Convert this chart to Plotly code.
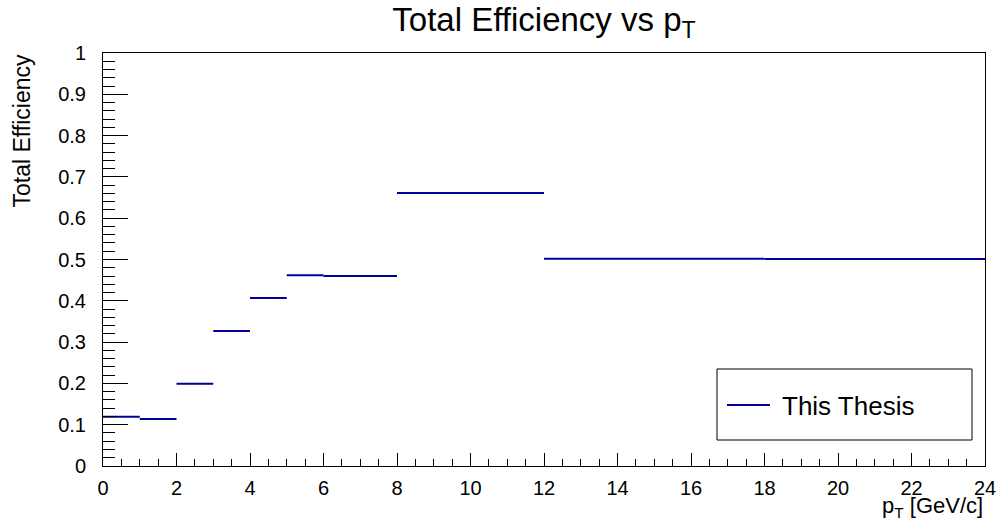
import plotly.graph_objects as go

bin_edges = [0, 1, 2, 3, 4, 5, 6, 8, 12, 18, 24]
efficiency = [0.119, 0.114, 0.199, 0.327, 0.407, 0.462, 0.460, 0.661, 0.502, 0.501]
series_name = "This Thesis"

xs, ys = [], []
for i, v in enumerate(efficiency):
    xs += [bin_edges[i], bin_edges[i + 1], None]
    ys += [v, v, None]

FONT = "Liberation Sans, Arial, Helvetica, sans-serif"
BLUE = "#000099"

L, R, T, B = 103, 985, 53, 466
PW, PH = R - L, B - T


def px(x):
    return (x - L) / PW


def py(y):
    return (B - y) / PH


fig = go.Figure()
fig.add_trace(go.Scatter(x=xs, y=ys, mode="lines", name=series_name,
                         line=dict(color=BLUE, width=2), connectgaps=False,
                         showlegend=False))

fig.update_layout(
    width=1000, height=523,
    margin=dict(l=L, r=1000 - R, t=T, b=523 - B, autoexpand=False),
    paper_bgcolor="white", plot_bgcolor="white",
    font=dict(family=FONT, color="black", size=20),
    title=dict(text="Total Efficiency vs p<sub>T</sub>", xref="paper", x=0.5, xanchor="center",
               yref="container", y=0.985, yanchor="top", font=dict(size=33, family=FONT)),
    showlegend=False,
    xaxis=dict(range=[0, 24], dtick=2, tick0=0, ticks="inside", ticklen=13,
               tickcolor="black", showgrid=False, zeroline=False, automargin=False,
               showline=True, linecolor="black", linewidth=1, mirror=True,
               tickfont=dict(size=20), ticklabelstandoff=4,
               minor=dict(dtick=0.5, ticks="inside", ticklen=7, tickcolor="black", showgrid=False)),
    yaxis=dict(range=[0, 1], dtick=0.1, tick0=0, ticks="inside", ticklen=25,
               tickcolor="black", showgrid=False, zeroline=False, automargin=False,
               showline=True, linecolor="black", linewidth=1, mirror=True,
               tickfont=dict(size=20), ticklabelstandoff=12,
               minor=dict(dtick=0.02, ticks="inside", ticklen=12, tickcolor="black", showgrid=False)),
    shapes=[
        dict(type="rect", xref="paper", yref="paper",
             x0=px(717), x1=px(972), y0=py(440), y1=py(369),
             line=dict(color="black", width=1), fillcolor="rgba(0,0,0,0)"),
        dict(type="line", xref="paper", yref="paper",
             x0=px(727), x1=px(770), y0=py(405), y1=py(405),
             line=dict(color=BLUE, width=2)),
    ],
    annotations=[
        dict(text=series_name, xref="paper", yref="paper",
             x=px(780), y=py(406), xanchor="left", yanchor="middle", showarrow=False,
             font=dict(size=26, family=FONT)),
        dict(text="p<sub>T</sub> [GeV/c]", xref="paper", yref="paper",
             x=1.0, y=py(523), xanchor="right", yanchor="bottom", showarrow=False,
             font=dict(size=22, family=FONT)),
        dict(text="Total Efficiency", xref="paper", yref="paper", textangle=-90,
             x=px(21), y=py(53), xanchor="center", yanchor="top", showarrow=False,
             font=dict(size=23, family=FONT)),
    ],
)

fig.write_html("out.html")
